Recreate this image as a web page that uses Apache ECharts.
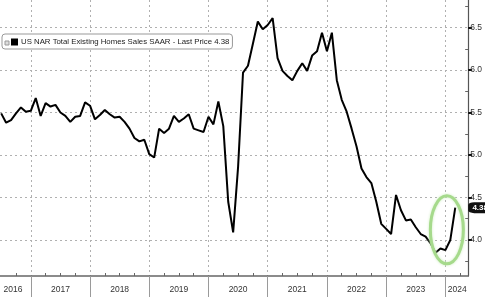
<!DOCTYPE html>
<html><head><meta charset="utf-8">
<script src="https://cdn.jsdelivr.net/npm/echarts@6/dist/echarts.min.js"></script>
<style>html,body{margin:0;padding:0;background:#fff}#c{width:485px;height:297px}</style>
</head><body><div id="c"></div>
<script>
const seriesName = 'US NAR Total Existing Homes Sales SAAR - Last Price 4.38';
const firstYear = 2016;
const firstMonth = 6; // June 2016, monthly points at month end
const sales2016 = [5.49, 5.38, 5.41, 5.49, 5.56, 5.51, 5.52];
const sales2017 = [5.67, 5.46, 5.61, 5.57, 5.59, 5.50, 5.46, 5.39, 5.45, 5.46, 5.62, 5.58];
const sales2018 = [5.42, 5.47, 5.53, 5.48, 5.44, 5.45, 5.39, 5.31, 5.20, 5.16, 5.18, 5.01];
const sales2019 = [4.97, 5.31, 5.26, 5.31, 5.46, 5.39, 5.43, 5.48, 5.31, 5.29, 5.27, 5.45];
const sales2020 = [5.36, 5.63, 5.34, 4.45, 4.09, 4.86, 5.97, 6.05, 6.31, 6.57, 6.48, 6.53];
const sales2021 = [6.61, 6.14, 5.99, 5.93, 5.88, 5.99, 6.08, 5.99, 6.17, 6.22, 6.44, 6.22];
const sales2022 = [6.44, 5.88, 5.65, 5.51, 5.31, 5.10, 4.84, 4.74, 4.67, 4.45, 4.19, 4.13];
const sales2023 = [4.07, 4.53, 4.35, 4.23, 4.24, 4.15, 4.07, 4.04, 3.96, 3.85, 3.90, 3.88];
const sales2024 = [4.00, 4.38];

const yearLabels = ['2016','2017','2018','2019','2020','2021','2022','2023','2024'];
const yearLabelPos = [2016.70, 2017.5, 2018.5, 2019.5, 2020.5, 2021.5, 2022.5, 2023.5, 2024.2];
const yearTicks = [2017, 2018, 2019, 2020, 2021, 2022, 2023, 2024];
const quarterTicks = [2016.75, 2017.25, 2017.5, 2017.75, 2018.25, 2018.5, 2018.75, 2019.25, 2019.5, 2019.75,
  2020.25, 2020.5, 2020.75, 2021.25, 2021.5, 2021.75, 2022.25, 2022.5, 2022.75, 2023.25, 2023.5, 2023.75, 2024.25];
const yTickValues = [4.0, 4.5, 5.0, 5.5, 6.0, 6.5];
const yMinorTicks = [3.75, 4.25, 4.75, 5.25, 5.75, 6.25, 6.75];

const xMin = 2016.48, xMax = 2024.385;
const yMin = 3.576, yMax = 6.824;

const allYears = [sales2016, sales2017, sales2018, sales2019, sales2020, sales2021, sales2022, sales2023, sales2024];
const data = [];
allYears.forEach(function (arr, yi) {
  const year = firstYear + yi;
  const m0 = yi === 0 ? firstMonth : 1;
  arr.forEach(function (v, k) { data.push([year + (m0 + k) / 12, v]); });
});
const lastVal = data[data.length - 1][1];

const FONT = 'Liberation Sans';
const chart = echarts.init(document.getElementById('c'), null, {renderer: 'canvas'});
const dash = {type: [2, 3], color: '#b0b0b0', width: 1};
chart.setOption({
  animation: false,
  textStyle: {fontFamily: FONT},
  grid: {left: 0, right: 13, top: 0, bottom: 21, containLabel: false},
  legend: {
    data: [seriesName], left: 2, top: 34, orient: 'horizontal',
    icon: 'rect', itemWidth: 7, itemHeight: 7, itemGap: 3,
    padding: [4, 3, 3, 9], borderColor: '#999', borderWidth: 1, borderRadius: 3,
    backgroundColor: '#fff',
    textStyle: {fontSize: 7.8, color: '#222', fontFamily: FONT, padding: [0, 0, 0, -2]}
  },
  xAxis: [
    {type: 'value', min: xMin, max: xMax, position: 'bottom',
     axisLine: {show: true, lineStyle: {color: '#666', width: 1.5}},
     axisTick: {show: true, customValues: yearTicks, length: 21, lineStyle: {color: '#9a9a9a', width: 1}},
     axisLabel: {show: true, customValues: yearLabelPos, margin: 9, fontSize: 8.5, color: '#333', fontFamily: FONT,
       formatter: function (v) { const i = yearLabelPos.findIndex(function (p) { return Math.abs(p - v) < 1e-6; }); return i >= 0 ? yearLabels[i] : ''; }},
     splitLine: {show: true, lineStyle: dash}},
    {type: 'value', min: xMin, max: xMax, position: 'bottom',
     axisLine: {show: false},
     axisTick: {show: true, customValues: quarterTicks, inside: true, length: 3, lineStyle: {color: '#666', width: 1}},
     axisLabel: {show: false}, splitLine: {show: false}}
  ],
  yAxis: [
    {type: 'value', min: yMin, max: yMax, position: 'right',
     axisLine: {show: true, lineStyle: {color: '#555', width: 1.2}},
     axisTick: {show: true, customValues: yTickValues, length: 4, lineStyle: {color: '#111', width: 2}},
     axisLabel: {show: true, customValues: yTickValues, margin: 2, fontSize: 8.5, color: '#333', fontFamily: FONT,
       formatter: function (v) { return v.toFixed(1); }},
     splitLine: {show: true, lineStyle: dash}},
    {type: 'value', min: yMin, max: yMax, position: 'right',
     axisLine: {show: false},
     axisTick: {show: true, customValues: yMinorTicks, inside: true, length: 3, lineStyle: {color: '#666', width: 1}},
     axisLabel: {show: false}, splitLine: {show: false}}
  ],
  series: [{
    name: seriesName, type: 'line', xAxisIndex: 0, yAxisIndex: 0,
    data: data, showSymbol: false, symbol: 'none',
    lineStyle: {color: '#000', width: 2}, itemStyle: {color: '#000'},
    markPoint: {
      symbol: 'roundRect', symbolSize: [24, 11], symbolOffset: [12, 0],
      itemStyle: {color: '#111'},
      label: {show: true, position: 'inside', color: '#fff', fontSize: 8, fontWeight: 'bold', fontFamily: FONT,
        formatter: function () { return lastVal.toFixed(2); }},
      data: [{coord: [xMax, lastVal], value: lastVal}]
    }
  }]
});

// annotation ellipse around the latest rebound
const c = chart.convertToPixel({xAxisIndex: 0, yAxisIndex: 0}, [2024.025, 4.12]);
chart.setOption({
  graphic: [
    {type: 'ellipse', shape: {cx: c[0], cy: c[1], rx: 16.5, ry: 34}, z: 100,
     style: {fill: 'none', stroke: '#a6da8c', lineWidth: 3, shadowBlur: 3, shadowColor: '#cfeec2'}},
    {type: 'rect', shape: {x: 5, y: 41, width: 4, height: 4}, z: 100,
     style: {fill: '#ddd', stroke: '#999', lineWidth: 1}}
  ]
});
</script></body></html>
